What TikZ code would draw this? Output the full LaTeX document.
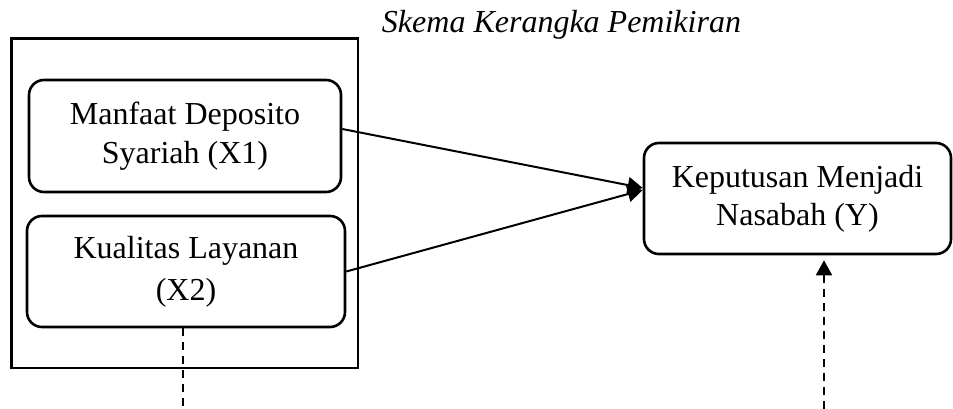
\documentclass[tikz,border=0pt]{standalone}
\usepackage{fontspec}
\setmainfont{Liberation Serif}
\usetikzlibrary{arrows.meta,calc}
\begin{document}
\begin{tikzpicture}[x=1pt,y=-1pt,
  txt/.style={font=\fontsize{32}{39}\selectfont, align=center, inner sep=0pt},
  varbox/.style={txt, draw, line width=2.6pt, rounded corners=15pt},
  outerbox/.style={draw, line width=2.6pt, inner sep=0pt},
  conn/.style={line width=2pt, -{Triangle[length=15pt,width=16pt]}},
  dashconn/.style={line width=2pt, dash pattern=on 8pt off 6pt}
]
\useasboundingbox (0,0) rectangle (953,409);
\node[txt, font=\fontsize{32}{39}\selectfont\itshape, anchor=base] (title) at (561.5,33) {Skema Kerangka Pemikiran};
\node[outerbox, minimum width=346.5pt, minimum height=329.5pt] (outer) at (184.75,203.25) {};
\node[varbox, minimum width=312pt, minimum height=112pt] (X1) at (185,136) {Manfaat Deposito\\Syariah (X1)};
\node[varbox, minimum width=318pt, minimum height=111pt, font=\fontsize{32}{42}\selectfont] (X2) at (186,271.5) {Kualitas Layanan\\(X2)};
\node[varbox, minimum width=307pt, minimum height=111pt, font=\fontsize{32}{38}\selectfont] (Y) at (797.5,198.5) {Keputusan Menjadi\\Nasabah (Y)};
\coordinate (b1) at (183,409);
\coordinate (b2) at (824,409);
\draw[conn] ([yshift=7pt]X1.east) -- ([yshift=10.5pt]Y.west);
\draw[conn] (X2.east) -- ([yshift=8.5pt]Y.west);
\draw[dashconn] ([xshift=-3pt]X2.south) -- (b1);
\draw[dashconn, -{Triangle[length=15pt,width=16pt]}] (b2) -- ([xshift=26.5pt,yshift=-5pt]Y.south);
\end{tikzpicture}
\end{document}
